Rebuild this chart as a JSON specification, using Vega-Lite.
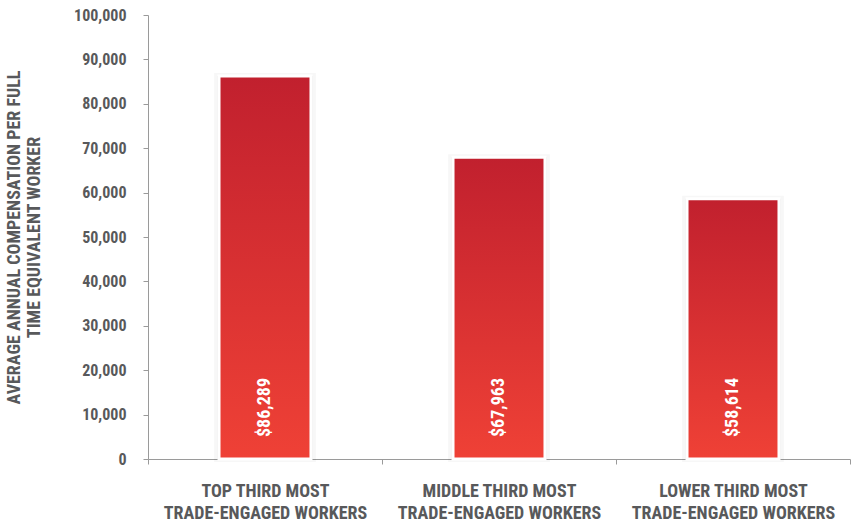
{
  "$schema": "https://vega.github.io/schema/vega-lite/v6.json",
  "width": 702,
  "height": 444,
  "autosize": {"type": "none"},
  "padding": {"left": 148, "top": 15, "right": 7, "bottom": 62},
  "background": "white",
  "data": {
    "values": [
      {"group": "TOP THIRD MOST|TRADE-ENGAGED WORKERS", "value": 86289, "label": "$86,289"},
      {"group": "MIDDLE THIRD MOST|TRADE-ENGAGED WORKERS", "value": 67963, "label": "$67,963"},
      {"group": "LOWER THIRD MOST|TRADE-ENGAGED WORKERS", "value": 58614, "label": "$58,614"}
    ]
  },
  "config": {
    "view": {"stroke": null},
    "font": "Roboto Condensed, Liberation Sans Narrow, DejaVu Sans Condensed, Roboto",
    "axis": {
      "domainColor": "#9a9a9a",
      "tickColor": "#9a9a9a",
      "labelColor": "#58595b",
      "titleColor": "#58595b",
      "labelFont": "Roboto Condensed, Liberation Sans Narrow, DejaVu Sans Condensed, Roboto",
      "titleFont": "Roboto Condensed, Liberation Sans Narrow, DejaVu Sans Condensed, Roboto",
      "labelFontWeight": "bold",
      "titleFontWeight": "bold",
      "grid": false
    }
  },
  "encoding": {
    "x": {
      "field": "group",
      "type": "nominal",
      "sort": null,
      "scale": {"paddingInner": 0, "paddingOuter": 0},
      "axis": {
        "title": null,
        "labelAngle": 0,
        "labelExpr": "split(datum.label, '|')",
        "labelFontSize": 18,
        "labelLineHeight": 22,
        "labelPadding": 18,
        "tickBand": "extent",
        "tickSize": 5,
        "labelLimit": 300
      }
    },
    "y": {
      "field": "value",
      "type": "quantitative",
      "scale": {"domain": [0, 100000]},
      "axis": {
        "title": ["AVERAGE ANNUAL COMPENSATION PER FULL", "TIME EQUIVALENT WORKER"],
        "titleFontSize": 18,
        "titleLineHeight": 20,
        "titlePadding": 30,
        "labelFontSize": 16,
        "labelPadding": 17,
        "tickSize": 5,
        "values": [0, 10000, 20000, 30000, 40000, 50000, 60000, 70000, 80000, 90000, 100000],
        "format": ",d"
      }
    }
  },
  "layer": [
    {
      "mark": {"type": "bar", "width": {"band": 0.41}, "fill": "#000", "fillOpacity": 0.05, "stroke": "#000", "strokeOpacity": 0.03, "strokeWidth": 6}
    },
    {
      "mark": {
        "type": "bar",
        "width": {"band": 0.393},
        "stroke": "white",
        "strokeWidth": 3,
        "fill": {
          "gradient": "linear",
          "x1": 0, "y1": 0, "x2": 0, "y2": 1,
          "stops": [
            {"offset": 0, "color": "#c1202e"},
            {"offset": 1, "color": "#ef4136"}
          ]
        }
      }
    },
    {
      "mark": {"type": "text", "angle": 270, "align": "left", "baseline": "middle", "dx": 22, "color": "white", "fontSize": 18, "fontWeight": "bold"},
      "encoding": {
        "y": {"datum": 0, "type": "quantitative"},
        "text": {"field": "label"}
      }
    }
  ]
}
